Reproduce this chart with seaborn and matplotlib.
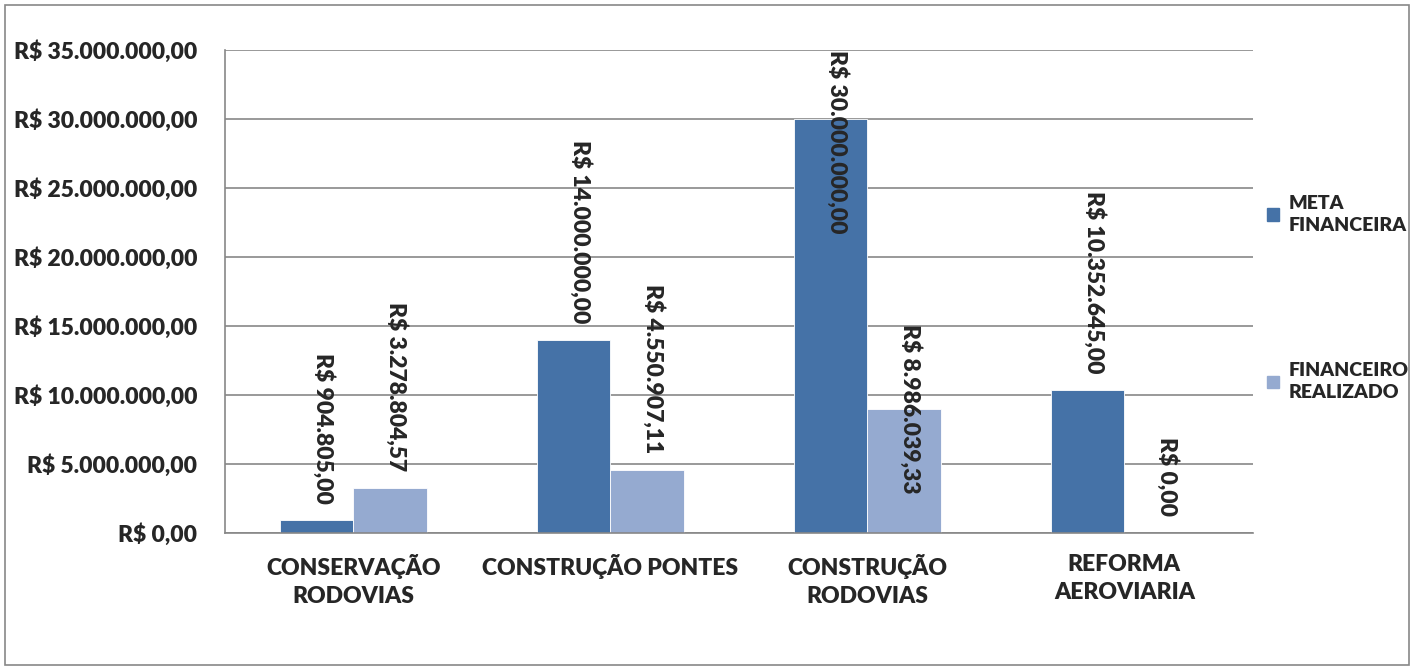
import matplotlib
matplotlib.use("Agg")
import matplotlib.pyplot as plt
import matplotlib.patches as mpatches
import pandas as pd
import seaborn as sns

# Chart data
categories = ["CONSERVAÇÃO\nRODOVIAS", "CONSTRUÇÃO PONTES", "CONSTRUÇÃO\nRODOVIAS", "REFORMA\nAEROVIARIA"]
series_names = ["META\nFINANCEIRA", "FINANCEIRO\nREALIZADO"]
meta_financeira = [904805.00, 14000000.00, 30000000.00, 10352645.00]
financeiro_realizado = [3278804.57, 4550907.11, 8986039.33, 0.00]
y_ticks = [0, 5000000, 10000000, 15000000, 20000000, 25000000, 30000000, 35000000]

# where each data label sits relative to its bar top (Excel moved a few of them)
label_va = [["bottom", "bottom", "top", "bottom"], ["bottom", "bottom", "center", "bottom"]]

colors = ["#4572A7", "#95AAD0"]
FS = 16.5
WT = "heavy"


def brl(v):
    s = f"{v:,.2f}"
    s = s.replace(",", "X").replace(".", ",").replace("X", ".")
    return "R$ " + s


df = pd.DataFrame({
    "categoria": categories * 2,
    "serie": [series_names[0]] * 4 + [series_names[1]] * 4,
    "valor": meta_financeira + financeiro_realizado,
})

sns.set_style("white")
plt.rcParams["font.family"] = ["Lato", "DejaVu Sans"]
plt.rcParams["font.weight"] = WT

fig = plt.figure(figsize=(14.14, 6.70), dpi=100)
ax = fig.add_axes([0.159, 0.2045, 0.727, 0.7209])

sns.barplot(data=df, x="categoria", y="valor", hue="serie", order=categories,
            hue_order=series_names, palette=colors, saturation=1, width=0.57, gap=0,
            edgecolor="white", linewidth=0.6, ax=ax, legend=False)

ax.set_ylim(0, 35000000)
ax.set_xlim(-0.5, len(categories) - 0.5)
ax.set_yticks(y_ticks)
ax.set_yticklabels([brl(v) for v in y_ticks], fontsize=FS, fontweight=WT)
ax.set_xticks(range(len(categories)))
ax.set_xticklabels(categories, fontsize=FS, fontweight=WT, linespacing=1.4)
ax.set_xticks([i - 0.5 for i in range(len(categories) + 1)], minor=True)
ax.tick_params(axis="x", which="major", length=0, pad=15)
ax.tick_params(axis="x", which="minor", length=6, color="#878787", width=1.2, direction="out")
ax.tick_params(axis="y", length=6, color="#878787", width=1.2, direction="out", pad=14)
ax.set_xlabel("")
ax.set_ylabel("")

ax.yaxis.grid(True, color="#878787", linewidth=1.2)
ax.set_axisbelow(True)
for side in ["top", "right"]:
    ax.spines[side].set_visible(False)
for side in ["left", "bottom"]:
    ax.spines[side].set_color("#878787")
    ax.spines[side].set_linewidth(1.2)

# data labels, rotated like the original
ymax = ax.get_ylim()[1]
for s, container in enumerate(ax.containers):
    for i, bar in enumerate(container):
        h = bar.get_height()
        x = bar.get_x() + bar.get_width() / 2 + 0.025
        va = label_va[s][i]
        if va == "top":
            y, off = ymax, 0
        elif va == "center":
            y, off = h, 0
        else:
            y, off = h, 12
        ax.annotate(brl(h), (x, y), xytext=(0, off), textcoords="offset points",
                    rotation=270, ha="center", va=va, fontsize=FS,
                    fontweight=WT, annotation_clip=False)

# legend on the right
handles = [mpatches.Patch(color=c, label=n) for c, n in zip(colors, series_names)]
leg = fig.legend(handles=handles, loc="upper left", bbox_to_anchor=(0.884, 0.735),
                 frameon=False, prop={"weight": WT, "size": 14},
                 handlelength=0.6, handleheight=0.6, handletextpad=0.5, labelspacing=6.6)
for t in leg.get_texts():
    t.set_linespacing(1.35)

# outer chart border
fig.patches.append(mpatches.Rectangle((0.0035, 0.0075), 0.993, 0.985, transform=fig.transFigure,
                                      fill=False, edgecolor="#878787", linewidth=1.2))

fig.savefig("out.png", dpi=100)
